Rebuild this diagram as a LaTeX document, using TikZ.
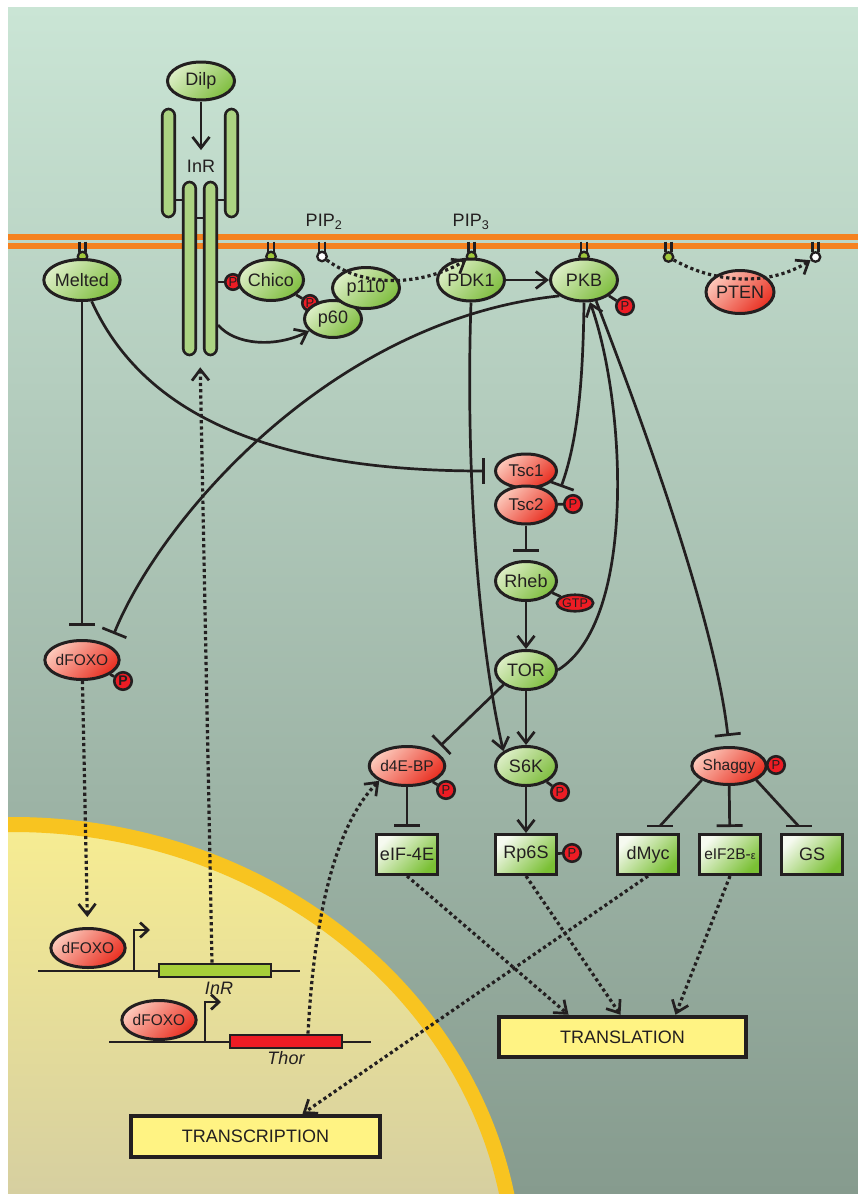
\documentclass[tikz,border=0pt]{standalone}
\usepackage{fontspec}
\setmainfont{Liberation Sans}
\usetikzlibrary{arrows.meta,shapes.geometric,calc}

\definecolor{ink}{RGB}{35,31,32}
\definecolor{bgtop}{RGB}{202,229,213}
\definecolor{bgbot}{RGB}{134,155,142}
\definecolor{nuctop}{RGB}{247,237,146}
\definecolor{nucbot}{RGB}{214,207,160}
\definecolor{envelope}{RGB}{248,196,32}
\definecolor{lipid}{RGB}{245,130,32}
\definecolor{gLight}{RGB}{220,238,198}
\definecolor{gDark}{RGB}{128,190,64}
\definecolor{rLight}{RGB}{252,200,186}
\definecolor{rDark}{RGB}{233,48,34}
\definecolor{bLight}{RGB}{246,250,240}
\definecolor{bDark}{RGB}{122,192,52}
\definecolor{pred}{RGB}{237,28,36}
\definecolor{barfill}{RGB}{172,211,130}
\definecolor{genegreen}{RGB}{166,206,57}
\definecolor{outfill}{RGB}{255,243,131}
\definecolor{headgreen}{RGB}{160,200,60}

\tikzset{
  nodebase/.style={draw=ink, line width=3pt, text=ink, inner sep=0pt,
    font=\fontsize{18}{18}\selectfont},
  gnode/.style={nodebase, ellipse, top color=gLight, bottom color=gDark,
    shading angle=45, minimum width=66pt, minimum height=41pt},
  rnode/.style={nodebase, ellipse, top color=rLight, bottom color=rDark,
    shading angle=45, minimum width=66pt, minimum height=41pt},
  compact/.style={minimum width=61pt, minimum height=39pt},
  smalltext/.style={font=\fontsize{15.5}{16}\selectfont},
  gbox/.style={nodebase, rectangle, top color=bLight, bottom color=bDark,
    shading angle=45, minimum width=61pt, minimum height=40pt},
  pdot/.style={circle, draw=ink, line width=2.6pt, fill=pred, text=ink,
    minimum size=17.5pt, inner sep=0pt, font=\fontsize{13}{13}\selectfont},
  outbox/.style={draw=ink, line width=4.5pt, fill=outfill, text=ink,
    inner sep=0pt, font=\fontsize{18}{18}\selectfont},
  barrect/.style={draw=ink, line width=2.6pt, fill=barfill, rectangle,
    rounded corners=6.5pt, minimum width=12.5pt, inner sep=0pt},
  lipidhead/.style={circle, draw=ink, line width=2.3pt, minimum size=9.5pt,
    inner sep=0pt},
  genebox/.style={draw=ink, line width=2.8pt, inner sep=0pt, rectangle,
    minimum width=112pt, minimum height=13pt},
  label/.style={text=ink, inner sep=0pt, font=\fontsize{18}{18}\selectfont},
  ln/.style={draw=ink, line width=2.7pt},
  arr/.style={ln, -{Straight Barb[length=11pt,width=17pt]}},
  inh/.style={ln, -{Bar[width=26pt]}},
  dotline/.style={draw=ink, line width=3.2pt, dash pattern=on 3.2pt off 3pt},
  darr/.style={dotline, -{Straight Barb[length=11pt,width=17pt,line width=2.7pt]}}
}

\begin{document}
\begin{tikzpicture}[x=1pt, y=-1pt]
\useasboundingbox (0,0) rectangle (858,1194);

% cytoplasm
\shade[top color=bgtop, bottom color=bgbot] (8,7) rectangle (858,1194);

% nucleus
\begin{scope}
  \clip (8,7) rectangle (858,1194);
  \begin{scope}
    \clip (13,1279) ellipse [x radius=502.5, y radius=454.5];
    \shade[top color=nuctop, bottom color=nucbot] (8,820) rectangle (858,1194);
  \end{scope}
  \draw[envelope, line width=15pt] (13,1279) ellipse [x radius=502.5, y radius=454.5];
\end{scope}

% plasma membrane
\draw[lipid, line width=6pt] (8,237) -- (858,237);
\draw[lipid, line width=6pt] (8,246) -- (858,246);

% lipid anchors
\foreach \x in {82.5,271,322,471.5,584,668.5,815.5}{
  \draw[ink, line width=2.1pt] (\x-3,241.5) -- (\x-3,252)
                               (\x+3,241.5) -- (\x+3,252);
}
\node[lipidhead, fill=headgreen] (hmelted) at (82.5,256.5) {};
\node[lipidhead, fill=headgreen] (hchico) at (271,256.5) {};
\node[lipidhead, fill=white] (pip2) at (322,256.5) {};
\node[lipidhead, fill=headgreen] (pip3) at (471.5,256.5) {};
\node[lipidhead, fill=headgreen] (hpkb) at (584,256.5) {};
\node[lipidhead, fill=headgreen] (ptenL) at (668.5,257) {};
\node[lipidhead, fill=white] (ptenR) at (815.5,257) {};

\node[label] (pip2lab) at (324,222) {PIP\textsubscript{2}};
\node[label] (pip3lab) at (471,222) {PIP\textsubscript{3}};

% insulin receptor
\node[barrect, minimum height=108pt] (outL) at (168.5,163) {};
\node[barrect, minimum height=108pt] (outR) at (231.5,163) {};
\node[barrect, minimum height=173pt] (inL) at (189.5,268.5) {};
\node[barrect, minimum height=173pt] (inR) at (210.5,268.5) {};
\draw[ln, line width=2.2pt] (outL.east |- 0,200) -- (inL.west |- 0,200);
\draw[ln, line width=2.2pt] (inR.east |- 0,200) -- (outR.west |- 0,200);
\draw[ln, line width=2.2pt] (inL.east |- 0,218) -- (inR.west |- 0,218);
\node[label] (inrlab) at (201,166) {InR};
\node[gnode, minimum width=67pt, minimum height=38pt] (dilp) at (201,81) {Dilp};

% genes in the nucleus
\draw[ln, line width=2.8pt] (38,971) -- (300,971);
\draw[ln, -{Straight Barb[length=8pt,width=15pt]}] (134,971) -- (134,930) -- (150,930);
\node[genebox, fill=genegreen] (inrgene) at (215,970.5) {};
\node[label, font=\fontsize{18}{18}\selectfont\itshape] (inrgenelab) at (219,988) {InR};
\node[rnode, compact, smalltext] (nucfoxo1) at (88,948) {dFOXO};

\draw[ln, line width=2.8pt] (109,1042) -- (371,1042);
\draw[ln, -{Straight Barb[length=8pt,width=15pt]}] (205,1042) -- (205,1002) -- (221,1002);
\node[genebox, fill=pred] (thor) at (286,1041.5) {};
\node[label, font=\fontsize{18}{18}\selectfont\itshape] (thorlab) at (286,1058) {Thor};
\node[rnode, compact, smalltext] (nucfoxo2) at (159,1020) {dFOXO};

% signalling components
\node[gnode, minimum width=68pt] (melted) at (82,280) {Melted};
\node[pdot, minimum size=15.5pt] (pchico) at (233,282) {P};
\draw[ln] ($(inR.east)+(0,13.5)$) -- (pchico);
\node[gnode, minimum width=64pt] (chico) at (271,280) {Chico};
\node[pdot, minimum size=15.5pt] (pp60) at (310,303) {P};
\draw[ln] (chico) -- (pp60);
\node[gnode, minimum width=57pt, minimum height=37pt] (p60) at (333,319) {p60};
\node[gnode, minimum width=67pt] (p110) at (366,288) {p110};
\node[gnode, minimum width=67pt, minimum height=42pt] (pdk1) at (471,280) {PDK1};
\node[gnode, minimum width=67pt, minimum height=42pt] (pkb) at (584,280) {PKB};
\node[pdot] (ppkb) at (625,306) {P};
\draw[ln] (pkb) -- (ppkb);
\node[rnode, minimum width=68pt, minimum height=43pt] (pten) at (740,292) {PTEN};

\node[rnode, minimum width=61pt, minimum height=34pt, font=\fontsize{17}{17}\selectfont] (tsc1) at (526,471) {Tsc1};
\node[rnode, minimum width=61pt, minimum height=38pt, font=\fontsize{17}{17}\selectfont] (tsc2) at (526,505) {Tsc2};
\node[pdot] (ptsc) at (573,504) {P};
\draw[ln] (tsc2) -- (ptsc);
\node[gnode, compact] (rheb) at (526,581) {Rheb};
\node[ellipse, draw=ink, line width=2.6pt, fill=pred, text=ink, inner sep=0pt,
      minimum width=36pt, minimum height=16.5pt, font=\fontsize{12.5}{12.5}\selectfont] (gtp) at (575,603) {GTP};
\draw[ln] (rheb) -- (gtp);
\node[gnode, compact] (tor) at (526,670) {TOR};

\node[rnode, compact, smalltext] (d4ebp) at (407,766) {d4E-BP};
\node[pdot] (pd4e) at (446,790) {P};
\draw[ln] (d4ebp) -- (pd4e);
\node[gnode, compact] (s6k) at (526,766) {S6K};
\node[pdot] (ps6k) at (560,792) {P};
\draw[ln] (s6k) -- (ps6k);
\node[rnode, minimum width=59pt, minimum height=37pt, smalltext] (shaggy) at (729,766) {Shaggy};
\node[pdot] (pshaggy) at (776,765) {P};
\draw[ln] (shaggy) -- (pshaggy);

\node[rnode, compact, smalltext] (dfoxo) at (82,660) {dFOXO};
\node[pdot, font=\fontsize{14}{14}\selectfont\bfseries] (pfoxo) at (123,681) {P};
\draw[ln] (dfoxo) -- (pfoxo);

\node[gbox] (eif4e) at (407,854.5) {eIF-4E};
\node[gbox] (rp6s) at (526,854.5) {Rp6S};
\node[pdot] (prp6s) at (572,853) {P};
\draw[ln] (rp6s) -- (prp6s);
\node[gbox] (dmyc) at (648,854.5) {dMyc};
\node[gbox, smalltext] (eif2b) at (730,854.5) {eIF2B-{\fontsize{11}{11}\selectfont ε}};
\node[gbox] (gs) at (812,854.5) {GS};

\node[outbox, minimum width=247pt, minimum height=40pt] (translation) at (622.5,1037) {TRANSLATION};
\node[outbox, minimum width=249pt, minimum height=41pt] (transcription) at (255.5,1136.5) {TRANSCRIPTION};

% activation and inhibition
\draw[arr, shorten >=9.5pt] (dilp) -- (inrlab);
\draw[arr] ($(inR.east)+(0,56.5)$) .. controls (235,345) and (275,348) .. (p60);
\draw[arr] (pdk1) -- (pkb);
\draw[inh, shorten >=9pt] (melted) .. controls (150,430) and (300,471) .. (tsc1);
\draw[inh, shorten >=13pt] (melted) -- (dfoxo);
\draw[inh, shorten >=12pt] (pkb.south west) .. controls (330,320) and (160,520) .. (dfoxo.north east);
\coordinate (pkbhit) at (561,487);
\draw[inh] (pkb.south) .. controls (583,380) and (578,440) .. (pkbhit);
\draw[arr] (tor.east) .. controls (638,620) and (625,400) .. (pkb.-75);
\draw[inh, shorten >=10pt] (pkb.-60) .. controls (642,420) and (715,620) .. (shaggy.north);
\draw[arr] (pdk1.south) .. controls (465,480) and (480,650) .. (s6k.north west);
\draw[inh, shorten >=8pt] (tsc2) -- (rheb);
\draw[arr] (rheb) -- (tor);
\draw[arr] (tor) -- (s6k);
\draw[inh, shorten >=8pt] (tor.south west) -- (d4ebp.north east);
\draw[inh, shorten >=6pt] (d4ebp) -- (eif4e);
\draw[arr] (s6k) -- (rp6s);
\coordinate (mycbar) at ($(dmyc.north)+(12,-7)$);
\draw[ln] (shaggy.south west) -- (mycbar);
\draw[ln] ([xshift=-13pt]mycbar) -- ([xshift=13pt]mycbar);
\draw[inh, shorten >=6pt] (shaggy) -- (eif2b);
\coordinate (gsbar) at ($(gs.north)+(-13.5,-7)$);
\draw[ln] (shaggy.south east) -- (gsbar);
\draw[ln] ([xshift=-13pt]gsbar) -- ([xshift=13pt]gsbar);

% translocation and phosphoinositide conversion
\draw[darr] (pip2) .. controls (370,292) and (430,282) .. (pip3);
\draw[darr] (ptenL) .. controls (718,285) and (772,285) .. (ptenR);
\draw[darr, shorten >=10pt] (dfoxo) -- (nucfoxo1);
\coordinate (inrbase) at ($(inL.south)!0.5!(inR.south)$);
\draw[darr, shorten >=11pt] ($(inrgene.north)+(-3,0)$) -- (inrbase);
\draw[darr] ($(thor.north)+(22,0)$) .. controls (315,900) and (340,820) .. (d4ebp.south west);
\draw[darr] (eif4e.south) -- ($(translation.north)+(-54,0)$);
\draw[darr] (rp6s.south) -- ($(translation.north)+(-2,0)$);
\draw[darr] (eif2b.south) -- ($(translation.north)+(53,0)$);
\draw[darr] (dmyc.south) -- ($(transcription.north)+(47,0)$);

\end{tikzpicture}
\end{document}
